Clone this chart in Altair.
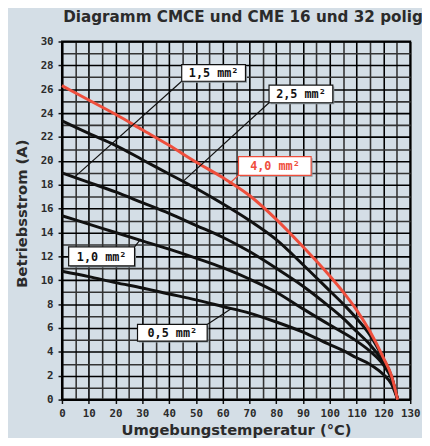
import altair as alt
import pandas as pd

# ---- data ----
temps = [0, 10, 20, 30, 40, 50, 60, 70, 80, 90, 100, 105, 110, 115, 120, 123, 125.3]
i_05 = [10.75, 10.3, 9.8, 9.35, 8.85, 8.35, 7.8, 7.25, 6.5, 5.65, 4.6, 4.1, 3.5, 2.95, 2.1, 1.3, 0]
i_10 = [15.4, 14.7, 14.0, 13.3, 12.6, 11.85, 11.05, 10.1, 9.0, 7.6, 6.25, 5.6, 4.9, 4.05, 2.9, 1.75, 0]
i_15 = [19.0, 18.2, 17.4, 16.5, 15.6, 14.6, 13.6, 12.4, 11.0, 9.5, 7.75, 6.8, 5.7, 4.6, 3.1, 1.85, 0]
i_25 = [23.35, 22.3, 21.3, 20.1, 18.9, 17.7, 16.4, 15.0, 13.4, 11.3, 9.1, 8.0, 6.8, 5.4, 3.4, 1.95, 0]
i_40 = [26.3, 25.1, 23.9, 22.6, 21.3, 19.9, 18.6, 17.1, 15.1, 12.8, 10.35, 9.0, 7.5, 5.7, 3.5, 2.0, 0]

series_names = ["0,5", "1,0", "1,5", "2,5", "4,0"]
series_vals = [i_05, i_10, i_15, i_25, i_40]
series_colors = ["#111111", "#111111", "#111111", "#111111", "#ef4e3c"]

# annotation labels
lab_text = ["1,5 mm²", "2,5 mm²", "4,0 mm²", "1,0 mm²", "0,5 mm²"]
lab_x = [56.6, 89.2, 79.5, 14.8, 41.2]
lab_y = [27.37, 25.6, 19.57, 12.0, 5.6]
box_x1 = [44.7, 77.3, 65.9, 2.5, 28.2]
box_x2 = [68.5, 101.1, 93.0, 27.1, 54.2]
box_y1 = [26.67, 24.87, 18.79, 11.2, 4.9]
box_y2 = [28.06, 26.35, 20.35, 12.8, 6.3]
lead_x1 = [44.7, 77.3, 65.9, 27.1, 54.2]
lead_y1 = [26.67, 24.87, 18.79, 12.8, 6.3]
lead_x2 = [5.0, 45.3, 62.3, 29.4, 63.0]
lead_y2 = [18.7, 18.3, 18.06, 13.45, 7.58]
lab_color = ["#111111", "#111111", "#ef4e3c", "#111111", "#111111"]

x_ticks = list(range(0, 131, 5))
y_ticks = list(range(0, 31, 1))

BG = "#d4dee6"
TXT = "#2b2b2b"

rows = []
for name, vals in zip(series_names, series_vals):
    for t, v in zip(temps, vals):
        rows.append({"T": t, "I": v, "s": name})
df = pd.DataFrame(rows)

ann = pd.DataFrame({
    "text": lab_text, "T": lab_x, "I": lab_y,
    "bx1": box_x1, "bx2": box_x2, "by1": box_y1, "by2": box_y2,
    "lx1": lead_x1, "ly1": lead_y1, "lx2": lead_x2, "ly2": lead_y2,
    "c": lab_color,
})

xs = alt.Scale(domain=[0, 130], nice=False, zero=False)
ys = alt.Scale(domain=[0, 30], nice=False)

grid_col = {"condition": {"test": "datum.value % 10 == 0", "value": "#000000"}, "value": "#333333"}
grid_col_y = {"condition": {"test": "datum.value % 2 == 0", "value": "#000000"}, "value": "#333333"}

x_axis = alt.Axis(
    values=x_ticks,
    labelExpr="datum.value % 10 == 0 ? datum.label : ''",
    labelOverlap=False, labelFlush=False,
    tickColor={"condition": {"test": "datum.value % 10 == 0", "value": "#111111"}, "value": "transparent"},
    gridColor=grid_col, gridWidth=1.6, gridOpacity=1,
    tickSize=4, tickWidth=1.5, labelPadding=4,
    labelFont="DejaVu Sans Mono", labelFontWeight="bold", labelFontSize=11, labelColor=TXT,
    domainColor="#000000", domainWidth=2,
    title="Umgebungstemperatur (°C)", titleFont="DejaVu Sans", titleFontWeight="bold",
    titleFontSize=15, titleColor=TXT, titlePadding=5,
)
y_axis = alt.Axis(
    values=y_ticks,
    labelExpr="datum.value % 2 == 0 ? datum.label : ''",
    labelOverlap=False, labelFlush=False,
    tickColor={"condition": {"test": "datum.value % 2 == 0", "value": "#111111"}, "value": "transparent"},
    gridColor=grid_col_y, gridWidth=1.6, gridOpacity=1,
    tickSize=4, tickWidth=1.5, labelPadding=5,
    labelFont="DejaVu Sans Mono", labelFontWeight="bold", labelFontSize=11, labelColor=TXT,
    domainColor="#000000", domainWidth=2,
    title="Betriebsstrom (A)", titleFont="DejaVu Sans", titleFontWeight="bold",
    titleFontSize=15, titleColor=TXT, titlePadding=11, titleY=175,
)

X = alt.X("T:Q", scale=xs, axis=x_axis)
Y = alt.Y("I:Q", scale=ys, axis=y_axis)

lines = alt.Chart(df).mark_line(strokeWidth=3, interpolate="monotone").encode(
    x=X, y=Y,
    color=alt.Color("s:N", scale=alt.Scale(domain=series_names, range=series_colors), legend=None),
    detail="s:N",
)

leaders = alt.Chart(ann).mark_rule(strokeWidth=1.2).encode(
    x=alt.X("lx1:Q", scale=xs, axis=x_axis), y=alt.Y("ly1:Q", scale=ys, axis=y_axis),
    x2="lx2:Q", y2="ly2:Q",
    color=alt.Color("c:N", scale=None),
)

shadows = alt.Chart(ann).mark_rect(fill="#8a949a", xOffset=1.5, yOffset=1.5, x2Offset=1.5, y2Offset=1.5).encode(
    x=alt.X("bx1:Q", scale=xs, axis=x_axis), x2="bx2:Q",
    y=alt.Y("by1:Q", scale=ys, axis=y_axis), y2="by2:Q",
)

boxes = alt.Chart(ann).mark_rect(fill="white", strokeWidth=1.2).encode(
    x=alt.X("bx1:Q", scale=xs, axis=x_axis), x2="bx2:Q",
    y=alt.Y("by1:Q", scale=ys, axis=y_axis), y2="by2:Q",
    stroke=alt.Color("c:N", scale=None),
)

texts = alt.Chart(ann).mark_text(
    font="DejaVu Sans Mono", fontWeight="bold", fontSize=12, baseline="middle", align="center", dy=0.5
).encode(
    x=X, y=Y, text="text:N",
    color=alt.Color("c:N", scale=None),
)

chart = alt.layer(lines, leaders, shadows, boxes, texts).properties(
    width=355, height=365,
    title=alt.TitleParams(
        "Diagramm CMCE und CME 16 und 32 polig",
        font="DejaVu Sans", fontWeight="bold", fontSize=15.5, color=TXT,
        anchor="middle", offset=10, dx=7,
    ),
    background=BG,
    autosize=alt.AutoSizeParams(type="none"),
    padding={"left": 55, "top": 30, "right": 12, "bottom": 35},
).configure_view(stroke="#000000", strokeWidth=2, fill=BG)

chart.save("out.html", embed_options={"renderer": "svg", "actions": False})
